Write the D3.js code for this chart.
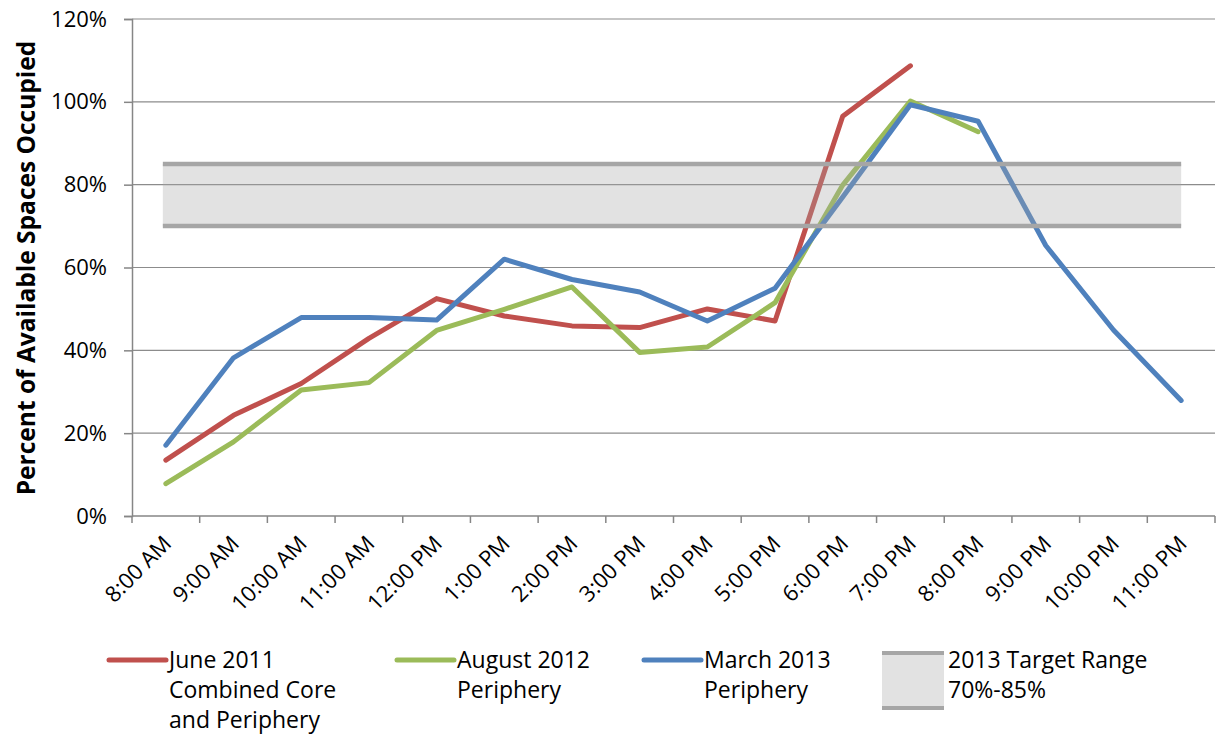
<!DOCTYPE html>
<html>
<head>
<meta charset="utf-8">
<script src="https://cdn.jsdelivr.net/npm/d3@7"></script>
<style>
  body { margin: 0; background: #fff; }
  text { font-family: "Open Sans", "Liberation Sans", sans-serif; fill: #000; }
</style>
</head>
<body>
<div id="chart"></div>
<script>
// hours of the survey
const hours = ["8:00 AM", "9:00 AM", "10:00 AM", "11:00 AM", "12:00 PM", "1:00 PM", "2:00 PM", "3:00 PM",
  "4:00 PM", "5:00 PM", "6:00 PM", "7:00 PM", "8:00 PM", "9:00 PM", "10:00 PM", "11:00 PM"];

// occupancy in percent, null = not surveyed
const june2011 = [13.5, 24.3, 32, 42.9, 52.5, 48.3, 45.9, 45.5, 50, 47.1, 96.5, 108.7, null, null, null, null];
const aug2012 = [7.8, 17.9, 30.4, 32.2, 44.8, 49.9, 55.3, 39.5, 40.8, 51.5, 79.9, 100.2, 92.8, null, null, null];
const march2013 = [17.1, 38.2, 47.9, 47.9, 47.3, 62, 57.1, 54.1, 47.1, 55, 77, 99.3, 95.3, 65.3, 44.9, 27.9];

const targetLow = 70, targetHigh = 85;
const yTicks = [0, 20, 40, 60, 80, 100, 120];

const series = [
  { name: ["June 2011", "Combined Core", "and Periphery"], values: june2011, color: "#C0504D" },
  { name: ["August 2012", "Periphery"], values: aug2012, color: "#9BBB59" },
  { name: ["March 2013", "Periphery"], values: march2013, color: "#4F81BD" }
];

const svgWidth = 1222, svgHeight = 738;
const margin = { top: 19, right: 7, bottom: 222, left: 132 };
const width = svgWidth - margin.left - margin.right;
const height = svgHeight - margin.top - margin.bottom;

const svg = d3.select("#chart").append("svg")
  .attr("width", svgWidth)
  .attr("height", svgHeight);

const chart = svg.append("g")
  .attr("transform", `translate(${margin.left},${margin.top})`);

const x = d3.scaleBand().domain(hours).range([0, width]);
const y = d3.scaleLinear().domain([0, 120]).range([height, 0]);
const cx = d => x(d) + x.bandwidth() / 2;

// gridlines
chart.append("g")
  .selectAll("line")
  .data(yTicks.filter(t => t > 0))
  .join("line")
  .attr("x1", 0).attr("x2", width)
  .attr("y1", d => y(d)).attr("y2", d => y(d))
  .attr("stroke", "#8c8c8c").attr("stroke-width", 1.2);

// y axis
const yAxis = chart.append("g")
  .call(d3.axisLeft(y).tickValues(yTicks).tickFormat(d => d + "%").tickSize(8).tickPadding(17));
yAxis.select(".domain").attr("stroke", "#868686").attr("stroke-width", 1.5);
yAxis.selectAll(".tick line").attr("stroke", "#868686").attr("stroke-width", 1.5);
yAxis.selectAll("text").style("font-size", "22px").attr("fill", "#000")
  .style("font-family", "'Open Sans', sans-serif");

// x axis with ticks on band boundaries
const xAxis = chart.append("g")
  .attr("transform", `translate(0,${height})`);
xAxis.append("line")
  .attr("x1", 0).attr("x2", width)
  .attr("stroke", "#868686").attr("stroke-width", 1.5);
xAxis.selectAll(".xtick")
  .data(hours.map(h => x(h)).concat([width]))
  .join("line")
  .attr("x1", d => d).attr("x2", d => d)
  .attr("y1", 0).attr("y2", 7)
  .attr("stroke", "#868686").attr("stroke-width", 1.5);
xAxis.selectAll(".xlabel")
  .data(hours)
  .join("text")
  .attr("text-anchor", "end")
  .attr("transform", d => `translate(${cx(d) + 7},${29}) rotate(-45)`)
  .style("font-size", "22px")
  .text(d => d);

// data lines
const line = d3.line()
  .defined(d => d.v !== null)
  .x(d => cx(d.h))
  .y(d => y(d.v));

series.forEach(s => {
  chart.append("path")
    .datum(hours.map((h, i) => ({ h: h, v: s.values[i] })))
    .attr("fill", "none")
    .attr("stroke", s.color)
    .attr("stroke-width", 5)
    .attr("stroke-linejoin", "round")
    .attr("stroke-linecap", "round")
    .attr("d", line);
});

// target band on top, semi transparent
const bx0 = cx(hours[0]) - 3, bx1 = cx(hours[hours.length - 1]);
chart.append("rect")
  .attr("x", bx0).attr("width", bx1 - bx0)
  .attr("y", y(targetHigh)).attr("height", y(targetLow) - y(targetHigh))
  .attr("fill", "#a6a6a6").attr("fill-opacity", 0.32);
[targetHigh, targetLow].forEach(t => {
  chart.append("line")
    .attr("x1", bx0).attr("x2", bx1)
    .attr("y1", y(t)).attr("y2", y(t))
    .attr("stroke", "#a6a6a6").attr("stroke-width", 4.5);
});

// y title
svg.append("text")
  .attr("transform", `translate(35,${margin.top + 249}) rotate(-90)`)
  .attr("text-anchor", "middle")
  .style("font-size", "24.5px")
  .style("font-weight", "bold")
  .text("Percent of Available Spaces Occupied");

// legend
const legend = svg.append("g");
const legendX = [109, 397, 644];
series.forEach((s, i) => {
  const g = legend.append("g").attr("transform", `translate(${legendX[i]},660)`);
  g.append("line")
    .attr("x1", 0).attr("x2", 57)
    .attr("stroke", s.color).attr("stroke-width", 5).attr("stroke-linecap", "round");
  g.selectAll("text")
    .data(s.name)
    .join("text")
    .attr("x", 60)
    .attr("y", (d, j) => 8 + j * 30)
    .style("font-size", "23px")
    .text(d => d);
});
const bandLegend = legend.append("g").attr("transform", "translate(882,653)");
bandLegend.append("rect")
  .attr("width", 62).attr("height", 55)
  .attr("fill", "#a6a6a6").attr("fill-opacity", 0.32);
[0, 55].forEach(yy => {
  bandLegend.append("line")
    .attr("x1", 0).attr("x2", 62).attr("y1", yy).attr("y2", yy)
    .attr("stroke", "#a6a6a6").attr("stroke-width", 4);
});
bandLegend.selectAll("text")
  .data(["2013 Target Range", "70%-85%"])
  .join("text")
  .attr("x", 66)
  .attr("y", (d, j) => 15 + j * 30)
  .style("font-size", "23px")
  .text(d => d);
</script>
</body>
</html>
